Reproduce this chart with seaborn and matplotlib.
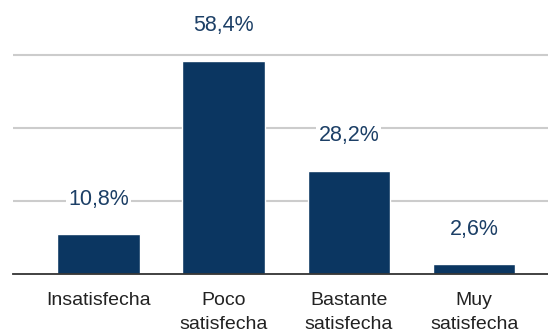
import matplotlib
matplotlib.use("Agg")
import matplotlib.pyplot as plt
import seaborn as sns
import pandas as pd

# Data
categorias = ["Insatisfecha", "Poco\nsatisfecha", "Bastante\nsatisfecha", "Muy\nsatisfecha"]
porcentajes = [10.8, 58.4, 28.2, 2.6]
etiquetas = ["10,8%", "58,4%", "28,2%", "2,6%"]

df = pd.DataFrame({"categoria": categorias, "pct": porcentajes})

sns.set_theme(style="white")
plt.rcParams["font.family"] = ["Liberation Sans", "DejaVu Sans"]

azul = "#0b3661"

fig = plt.figure(figsize=(5.48, 3.32), dpi=100)
ax = fig.add_axes([0.024, 0.175, 0.976, 0.825])

sns.barplot(data=df, x="categoria", y="pct", color=azul, width=0.66,
            saturation=1, ax=ax, zorder=3)

# Value labels above bars (white box hides the gridline behind the text)
for i, (v, txt) in enumerate(zip(porcentajes, etiquetas)):
    ax.annotate(txt, (i, v), xytext=(0, 35), textcoords="offset pixels",
                ha="center", va="center", fontsize=15.5, color="#1c3f66",
                bbox=dict(boxstyle="square,pad=0.1", fc="white", ec="none"),
                zorder=5)

ax.set_ylim(0, 75)
ax.set_xlim(-0.68, 3.59)
ax.set_yticks([20, 40, 60])
ax.yaxis.grid(True, color="#cccccc", linewidth=1.5, zorder=0)
ax.set_yticklabels([])
ax.tick_params(axis="y", length=0)
ax.tick_params(axis="x", length=0, pad=13, labelsize=14, labelcolor="#222222")
for lbl in ax.get_xticklabels():
    lbl.set_linespacing(1.55)
ax.set_xlabel("")
ax.set_ylabel("")

for s in ["top", "right", "left"]:
    ax.spines[s].set_visible(False)
ax.spines["bottom"].set_color("#333333")
ax.spines["bottom"].set_linewidth(1.3)
ax.spines["bottom"].set_zorder(4)

fig.savefig("out.png", dpi=100)
plt.close(fig)
